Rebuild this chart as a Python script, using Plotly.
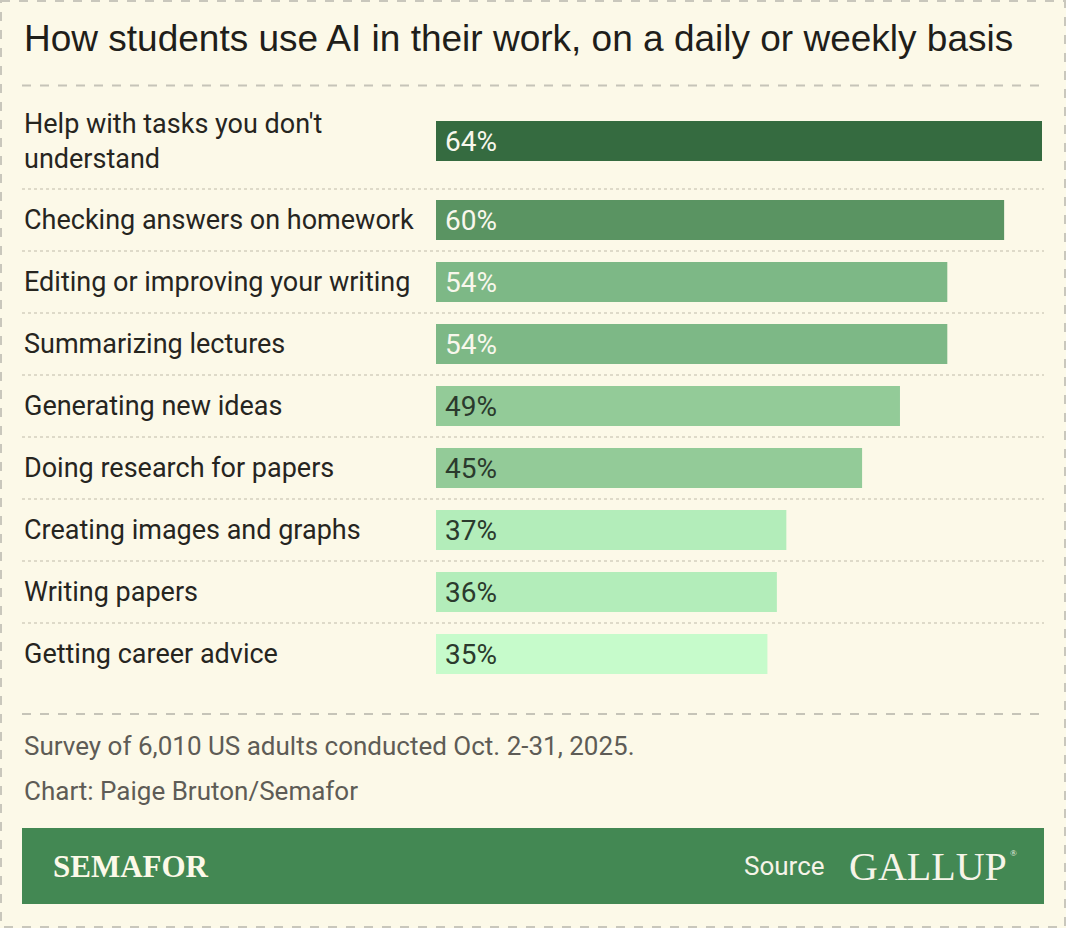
import plotly.graph_objects as go

# data
categories = [
    "Help with tasks you don't<br>understand",
    "Checking answers on homework",
    "Editing or improving your writing",
    "Summarizing lectures",
    "Generating new ideas",
    "Doing research for papers",
    "Creating images and graphs",
    "Writing papers",
    "Getting career advice",
]
shares = [64, 60, 54, 54, 49, 45, 37, 36, 35]
bar_colors = ["#356B40", "#5A9462", "#7DB886", "#7DB886", "#93CB98",
              "#93CB98", "#B3EDBA", "#B3EDBA", "#C6FBCB"]
text_colors = ["#F8F7EC", "#F8F7EC", "#F8F7EC", "#F8F7EC", "#2B3A2D",
               "#2B3A2D", "#2B3A2D", "#2B3A2D", "#2B3A2D"]

title = "How students use AI in their work, on a daily or weekly basis"
note = "Survey of 6,010 US adults conducted Oct. 2-31, 2025."
credit = "Chart: Paige Bruton/Semafor"

W, H = 1066, 928
L, R, T, B = 436, 24, 86, 214
PW, PH = W - L - R, H - T - B
BG = "#FCF9E8"
LABEL_FONT = "Roboto, 'Noto Sans', sans-serif"


def px(x):  # pixel -> paper x
    return (x - L) / PW


def py(y):  # pixel -> paper y
    return (T + PH - y) / PH


# row layout: 62px per row, 34px for each extra label line
pad_top = 7
heights = [62 + 34 * c.count("<br>") for c in categories]
centers, seps = [], []
pos = pad_top
for h in heights:
    centers.append(pos + h / 2)
    pos += h
    seps.append(pos)
seps = seps[:-1]

fig = go.Figure(go.Bar(
    x=shares, y=centers, orientation="h", width=40,
    marker=dict(color=bar_colors, line=dict(width=0)),
    hoverinfo="skip",
))

ann = []
ann.append(dict(text=title, x=px(22), y=py(38), xref="paper", yref="paper",
                xanchor="left", yanchor="middle", showarrow=False,
                font=dict(family="'Liberation Sans', Arial, sans-serif", size=37, color="#1F1E1A")))
for c, yc in zip(categories, centers):
    ann.append(dict(text=c, x=px(22), y=yc, xref="paper", yref="y",
                    xanchor="left", yanchor="middle", align="left", showarrow=False,
                    font=dict(family=LABEL_FONT, size=27, color="#26251F")))
for v, yc, tc in zip(shares, centers, text_colors):
    ann.append(dict(text=f"{v}%", x=0, y=yc, xref="x", yref="y", xshift=7,
                    xanchor="left", yanchor="middle", showarrow=False,
                    font=dict(family=LABEL_FONT, size=28, color=tc)))
ann.append(dict(text=note, x=px(22), y=py(746), xref="paper", yref="paper",
                xanchor="left", yanchor="middle", showarrow=False,
                font=dict(family=LABEL_FONT, size=26, color="#5E5C56")))
ann.append(dict(text=credit, x=px(22), y=py(791), xref="paper", yref="paper",
                xanchor="left", yanchor="middle", showarrow=False,
                font=dict(family=LABEL_FONT, size=26, color="#5E5C56")))
ann.append(dict(text="<b>SEMAFOR</b>", x=px(51), y=py(866), xref="paper", yref="paper",
                xanchor="left", yanchor="middle", showarrow=False,
                font=dict(family="'Liberation Serif', serif", size=31, color=BG)))
ann.append(dict(text="Source", x=px(827), y=py(866), xref="paper", yref="paper",
                xanchor="right", yanchor="middle", showarrow=False,
                font=dict(family=LABEL_FONT, size=26, color="#F6F4E8")))
ann.append(dict(text="GALLUP", x=px(847), y=py(866), xref="paper", yref="paper",
                xanchor="left", yanchor="middle", showarrow=False,
                font=dict(family="'Liberation Serif', serif", size=40, color="#F6F4E8")))
ann.append(dict(text="®", x=px(1008), y=py(853), xref="paper", yref="paper",
                xanchor="left", yanchor="middle", showarrow=False,
                font=dict(family="'Liberation Serif', serif", size=9, color="#F6F4E8")))

shapes = []
# outer dashed frame
shapes.append(dict(type="rect", xref="paper", yref="paper",
                   x0=px(1), x1=px(W - 1), y0=py(1), y1=py(H - 1),
                   line=dict(color="#C9C7BC", width=2, dash="dash"), layer="below"))
# dashed rules under title and above notes
for yy in (85.5, 714):
    shapes.append(dict(type="line", xref="paper", yref="paper",
                       x0=px(22), x1=px(1044), y0=py(yy), y1=py(yy),
                       line=dict(color="#C6C4B8", width=2, dash="dash")))
# dotted row separators
for s in seps:
    shapes.append(dict(type="line", xref="paper", yref="y",
                       x0=px(22), x1=px(1044), y0=s, y1=s,
                       line=dict(color="#D3CFBE", width=1.5, dash="dot"), layer="below"))
# green footer band
shapes.append(dict(type="rect", xref="paper", yref="paper",
                   x0=px(22), x1=px(1044), y0=py(828), y1=py(904),
                   fillcolor="#438853", line=dict(width=0), layer="below"))

fig.update_layout(
    width=W, height=H,
    margin=dict(l=L, r=R, t=T, b=B),
    paper_bgcolor=BG, plot_bgcolor=BG,
    showlegend=False,
    annotations=ann, shapes=shapes,
    xaxis=dict(range=[0, 64], visible=False, fixedrange=True),
    yaxis=dict(range=[PH, 0], visible=False, fixedrange=True),
)

fig.write_html("out.html", config=dict(displayModeBar=False),
               post_script="document.body.style.margin='0px';")
